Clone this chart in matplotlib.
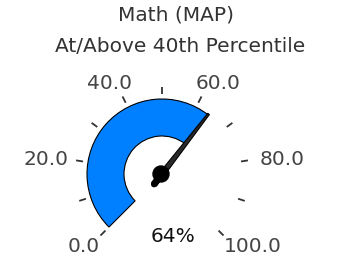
import numpy as np
import matplotlib
matplotlib.use("Agg")
import matplotlib.pyplot as plt
from matplotlib.patches import Wedge, Circle, Polygon

title = "Math (MAP)"
subtitle = "At/Above 40th Percentile"
value = 64
vmin, vmax = 0, 100
major_ticks = [0, 20, 40, 60, 80, 100]
minor_ticks = [10, 30, 50, 70, 90]

# geometry in pixels (1 data unit = 1 px)
r_out, r_in = 75, 38
start_deg, sweep = 225, 270


def ang(v):
    return np.radians(start_deg - (v - vmin) / (vmax - vmin) * sweep)


fig = plt.figure(figsize=(3.37, 2.57), dpi=100)
ax = fig.add_axes([0, 0, 1, 1])
ax.set_xlim(-162, 175)
ax.set_ylim(-83, 174)
ax.set_aspect("equal")
ax.axis("off")

# filled band
a_end = np.degrees(ang(value))
ax.add_patch(Wedge((0, 0), r_out, a_end, start_deg, width=r_out - r_in,
                   facecolor="#0080ff", edgecolor="black", linewidth=0.8))

# ticks
for t in major_ticks + minor_ticks:
    a = ang(t)
    ax.plot([80 * np.cos(a), 87 * np.cos(a)], [80 * np.sin(a), 87 * np.sin(a)],
            color="#333333", lw=1.3, solid_capstyle="butt")

# tick labels: box pushed outward from a ring at r=97
fig.canvas.draw()
rend = fig.canvas.get_renderer()
for t in major_ticks:
    a = ang(t)
    txt = ax.text(0, 0, f"{t:.1f}", fontsize=14.5, color="#444444",
                  ha="center", va="center")
    bb = txt.get_window_extent(rend)
    x = 97 * np.cos(a) + bb.width / 2 * np.cos(a) + 2
    y = 104 * np.sin(a) - 2
    if np.sin(a) < -0.3:
        y += 3
    txt.set_position((x, y))

# needle
a = ang(value)
d = np.array([np.cos(a), np.sin(a)])
n = np.array([-d[1], d[0]])
pts = [d * 76 + n * 1.0, -d * 13 + n * 3.0, -d * 13 - n * 3.0, d * 76 - n * 1.0]
ax.add_patch(Polygon(pts, closed=True, facecolor="#2a2a2a", edgecolor="black",
                     linewidth=0.8, joinstyle="round"))
ax.plot([0, -13 * d[0]], [0, -13 * d[1]], color="black", lw=4.5,
        solid_capstyle="round")
ax.add_patch(Circle((-1, 0), 8, facecolor="black", edgecolor="black"))

ax.text(11, -63, f"{value}%", fontsize=14.5, color="#111111",
        ha="center", va="center")

fig.text(176 / 337, 1 - 15 / 257, title, fontsize=14.5, color="#333333",
         ha="center", va="center")
fig.text(180 / 337, 1 - 47 / 257, subtitle, fontsize=14.5, color="#333333",
         ha="center", va="center")

fig.savefig("out.png", dpi=100)
